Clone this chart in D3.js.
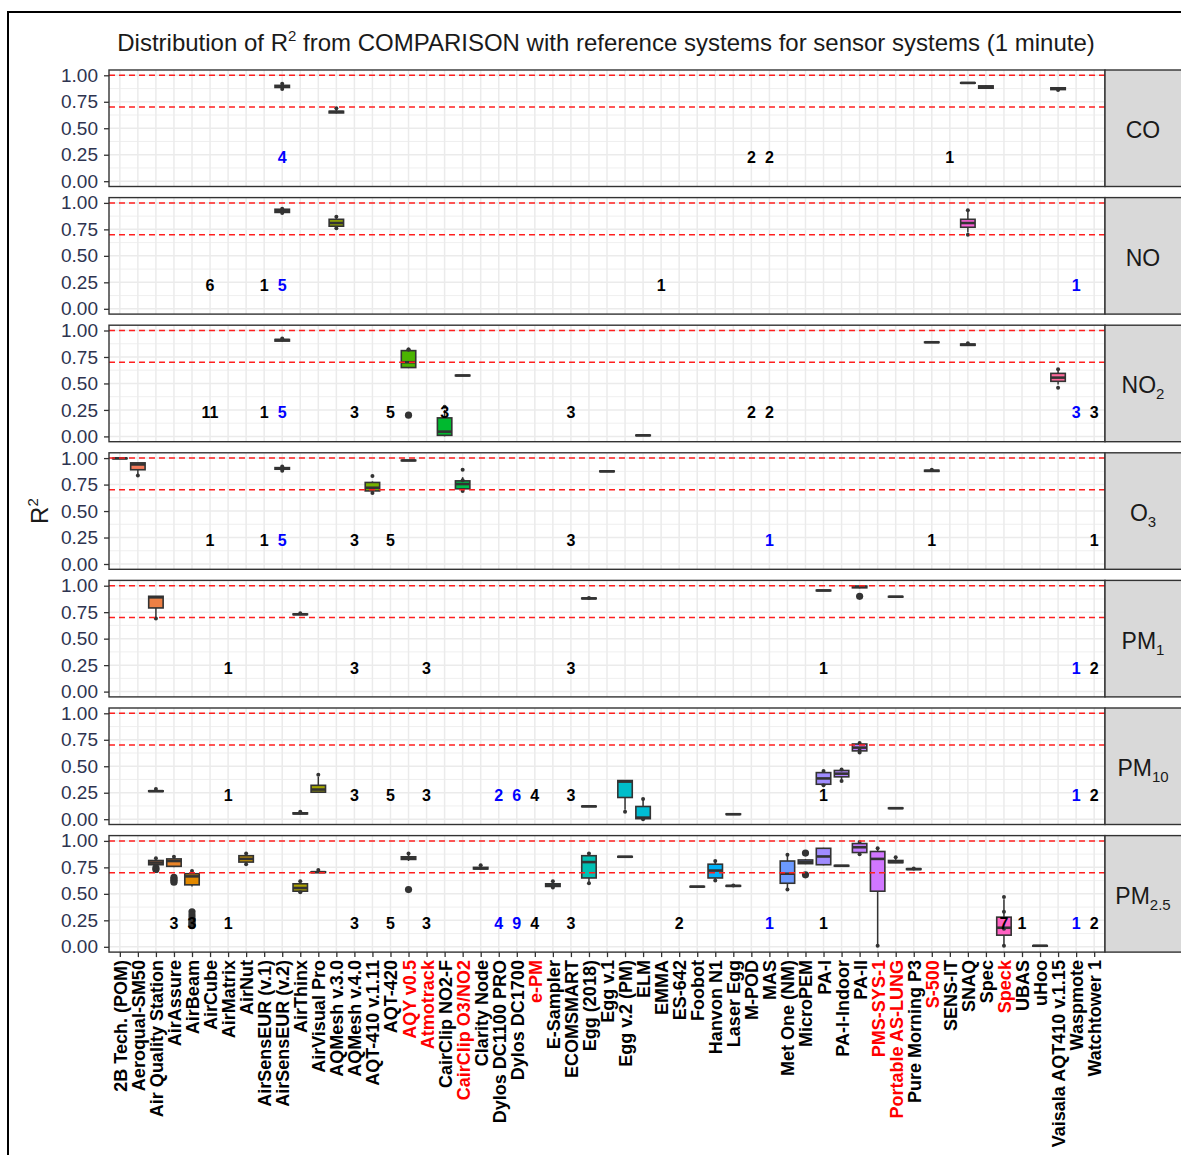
<!DOCTYPE html>
<html><head><meta charset="utf-8">
<script src="https://cdn.jsdelivr.net/npm/d3@7"></script>
<style>
body{margin:0;background:#fff;}
svg{display:block;font-family:"Liberation Sans",Arial,sans-serif;}
</style>
</head><body>
<svg id="c" width="1181" height="1155"></svg>
<script>
// ---------------- DATA ----------------
const categories = ["2B Tech. (POM)","Aeroqual-SM50","Air Quality Station","AirAssure","AirBeam","AirCube","AirMatrix","AirNut","AirSensEUR (v.1)","AirSensEUR (v.2)","AirThinx","AirVisual Pro","AQMesh v.3.0","AQMesh v.4.0","AQT-410 v.1.11","AQT-420","AQY v0.5","Atmotrack","CairClip NO2-F","CairClip O3/NO2","Clarity Node","Dylos DC1100 PRO","Dylos DC1700","e-PM","E-Sampler","ECOMSMART","Egg (2018)","Egg v.1","Egg v.2 (PM)","ELM","EMMA","ES-642","Foobot","Hanvon N1","Laser Egg","M-POD","MAS","Met One (NM)","MicroPEM","PA-I","PA-I-Indoor","PA-II","PMS-SYS-1","Portable AS-LUNG","Pure Morning P3","S-500","SENS-IT","SNAQ","Spec","Speck","UBAS","uHoo","Vaisala AQT410 v.1.15","Waspmote","Watchtower 1"];
const redCategories = ["AQY v0.5","Atmotrack","CairClip O3/NO2","e-PM","PMS-SYS-1","Portable AS-LUNG","S-500","Speck"];
const stripMain = ["CO","NO","NO","O","PM","PM","PM"];
const stripSub  = ["","","2","3","1","10","2.5"];
const yTicks = [0, 0.25, 0.5, 0.75, 1];
const yMinor = [0.125, 0.375, 0.625, 0.875];
const refLines = [0.7, 1.0];

// box rows: [category, lower whisker, q1, median, q3, upper whisker, small points, large points]
const boxesCO = [
  ["AirSensEUR (v.2)", 0.87, 0.885, 0.895, 0.905, 0.92, [0.87, 0.92], []],
  ["AQMesh v.3.0", 0.64, 0.645, 0.655, 0.66, 0.69, [0.69], []],
  ["SNAQ", 0.925, 0.926, 0.928, 0.93, 0.931, [], []],
  ["Spec", 0.87, 0.878, 0.89, 0.9, 0.905, [], []],
  ["Vaisala AQT410 v.1.15", 0.86, 0.865, 0.875, 0.882, 0.885, [0.86], []]
];
const boxesNO = [
  ["AirSensEUR (v.2)", 0.905, 0.91, 0.925, 0.94, 0.945, [0.905, 0.945], []],
  ["AQMesh v.3.0", 0.76, 0.78, 0.81, 0.845, 0.87, [0.87, 0.76], []],
  ["SNAQ", 0.72, 0.77, 0.81, 0.845, 0.92, [0.93, 0.70], []]
];
const boxesNO2 = [
  ["AirSensEUR (v.2)", 0.895, 0.9, 0.91, 0.915, 0.925, [0.925], []],
  ["AQY v0.5", 0.645, 0.65, 0.70, 0.81, 0.82, [0.82, 0.82], [0.2]],
  ["CairClip NO2-F", 0.0, 0.01, 0.045, 0.175, 0.25, [0.28], []],
  ["CairClip O3/NO2", 0.57, 0.572, 0.575, 0.578, 0.58, [], []],
  ["ELM", 0.005, 0.008, 0.01, 0.012, 0.015, [], []],
  ["S-500", 0.885, 0.887, 0.889, 0.891, 0.893, [], []],
  ["SNAQ", 0.855, 0.86, 0.865, 0.872, 0.88, [0.88], []],
  ["Vaisala AQT410 v.1.15", 0.49, 0.52, 0.555, 0.595, 0.635, [0.635, 0.46], []]
];
const boxesO3 = [
  ["2B Tech. (POM)", 0.995, 0.997, 0.998, 0.999, 1.0, [], []],
  ["Aeroqual-SM50", 0.85, 0.89, 0.94, 0.955, 0.955, [0.835], []],
  ["AirSensEUR (v.2)", 0.88, 0.895, 0.9, 0.91, 0.92, [0.92, 0.88], []],
  ["AQT-410 v.1.11", 0.67, 0.69, 0.72, 0.77, 0.78, [0.83, 0.67], []],
  ["AQY v0.5", 0.975, 0.976, 0.978, 0.98, 0.981, [], []],
  ["CairClip O3/NO2", 0.69, 0.71, 0.755, 0.785, 0.82, [0.89, 0.79, 0.69], []],
  ["Egg v.1", 0.87, 0.872, 0.875, 0.878, 0.88, [], []],
  ["S-500", 0.87, 0.875, 0.88, 0.885, 0.89, [0.89], []]
];
const boxesPM1 = [
  ["Air Quality Station", 0.69, 0.79, 0.89, 0.9, 0.9, [0.69], []],
  ["AirThinx", 0.725, 0.727, 0.73, 0.733, 0.74, [0.74], []],
  ["Egg (2018)", 0.875, 0.877, 0.88, 0.883, 0.885, [0.885], []],
  ["PA-I", 0.95, 0.952, 0.955, 0.958, 0.96, [], []],
  ["PA-II", 0.975, 0.98, 0.99, 0.995, 1.0, [], [0.9]],
  ["Portable AS-LUNG", 0.893, 0.894, 0.896, 0.898, 0.9, [], []]
];
const boxesPM10 = [
  ["Air Quality Station", 0.26, 0.262, 0.265, 0.268, 0.285, [0.285], []],
  ["AirThinx", 0.045, 0.05, 0.055, 0.06, 0.07, [0.07], []],
  ["AirVisual Pro", 0.25, 0.255, 0.28, 0.32, 0.40, [0.42], []],
  ["Egg (2018)", 0.12, 0.121, 0.122, 0.123, 0.125, [], []],
  ["Egg v.2 (PM)", 0.09, 0.205, 0.355, 0.365, 0.37, [0.07], []],
  ["ELM", 0.0, 0.005, 0.015, 0.12, 0.185, [0.19, 0.0], []],
  ["Laser Egg", 0.04, 0.045, 0.047, 0.05, 0.055, [], []],
  ["PA-I", 0.32, 0.33, 0.385, 0.44, 0.455, [0.455, 0.32], []],
  ["PA-I-Indoor", 0.36, 0.40, 0.43, 0.46, 0.47, [0.47, 0.36], []],
  ["PA-II", 0.63, 0.645, 0.676, 0.71, 0.72, [0.72, 0.63, 0.65], []],
  ["Portable AS-LUNG", 0.1, 0.102, 0.104, 0.106, 0.108, [], []]
];
const boxesPM25 = [
  ["Air Quality Station", 0.76, 0.775, 0.795, 0.815, 0.835, [0.835], [0.745, 0.73]],
  ["AirAssure", 0.75, 0.76, 0.81, 0.83, 0.85, [0.85], [0.655, 0.64, 0.625, 0.61]],
  ["AirBeam", 0.57, 0.585, 0.665, 0.69, 0.715, [0.715], [0.33, 0.3, 0.27, 0.25, 0.23, 0.215, 0.2]],
  ["AirNut", 0.78, 0.8, 0.83, 0.86, 0.88, [0.88, 0.78], []],
  ["AirThinx", 0.515, 0.525, 0.555, 0.595, 0.62, [0.62, 0.515], []],
  ["AirVisual Pro", 0.70, 0.702, 0.705, 0.708, 0.725, [0.725], []],
  ["AQY v0.5", 0.81, 0.825, 0.835, 0.85, 0.88, [0.88], [0.54]],
  ["Clarity Node", 0.73, 0.735, 0.74, 0.75, 0.77, [0.77], []],
  ["E-Sampler", 0.56, 0.57, 0.58, 0.595, 0.62, [0.62, 0.56], []],
  ["Egg (2018)", 0.6, 0.65, 0.8, 0.86, 0.88, [0.88, 0.6], []],
  ["Egg v.2 (PM)", 0.845, 0.847, 0.85, 0.853, 0.855, [], []],
  ["Foobot", 0.565, 0.566, 0.568, 0.57, 0.572, [], []],
  ["Hanvon N1", 0.625, 0.65, 0.72, 0.78, 0.81, [0.81, 0.625], []],
  ["Laser Egg", 0.57, 0.572, 0.575, 0.578, 0.58, [0.58], []],
  ["Met One (NM)", 0.54, 0.60, 0.69, 0.81, 0.87, [0.87, 0.54], []],
  ["MicroPEM", 0.78, 0.785, 0.8, 0.82, 0.83, [], [0.885, 0.68]],
  ["PA-I", 0.77, 0.775, 0.853, 0.93, 0.935, [], []],
  ["PA-I-Indoor", 0.76, 0.762, 0.765, 0.768, 0.77, [], []],
  ["PA-II", 0.875, 0.89, 0.94, 0.975, 0.99, [0.875, 0.99], []],
  ["PMS-SYS-1", 0.02, 0.525, 0.83, 0.9, 0.93, [0.93, 0.01], []],
  ["Portable AS-LUNG", 0.79, 0.795, 0.8, 0.815, 0.83, [0.845], []],
  ["Pure Morning P3", 0.728, 0.73, 0.734, 0.737, 0.74, [0.74], []],
  ["Speck", 0.01, 0.11, 0.18, 0.28, 0.45, [0.47, 0.33, 0.17, 0.01], []],
  ["uHoo", 0.008, 0.009, 0.01, 0.011, 0.012, [], []]
];

// count labels: [category, text, isBlue]
const countsCO = [["AirSensEUR (v.2)","4",1],["M-POD","2",0],["MAS","2",0],["SENS-IT","1",0]];
const countsNO = [["AirCube","6",0],["AirSensEUR (v.1)","1",0],["AirSensEUR (v.2)","5",1],["EMMA","1",0],["Waspmote","1",1]];
const countsNO2 = [["AirCube","11",0],["AirSensEUR (v.1)","1",0],["AirSensEUR (v.2)","5",1],["AQMesh v.4.0","3",0],["AQT-420","5",0],["CairClip NO2-F","3",0],["ECOMSMART","3",0],["M-POD","2",0],["MAS","2",0],["Waspmote","3",1],["Watchtower 1","3",0]];
const countsO3 = [["AirCube","1",0],["AirSensEUR (v.1)","1",0],["AirSensEUR (v.2)","5",1],["AQMesh v.4.0","3",0],["AQT-420","5",0],["ECOMSMART","3",0],["MAS","1",1],["S-500","1",0],["Watchtower 1","1",0]];
const countsPM1 = [["AirMatrix","1",0],["AQMesh v.4.0","3",0],["Atmotrack","3",0],["ECOMSMART","3",0],["PA-I","1",0],["Waspmote","1",1],["Watchtower 1","2",0]];
const countsPM10 = [["AirMatrix","1",0],["AQMesh v.4.0","3",0],["AQT-420","5",0],["Atmotrack","3",0],["Dylos DC1100 PRO","2",1],["Dylos DC1700","6",1],["e-PM","4",0],["ECOMSMART","3",0],["PA-I","1",0],["Waspmote","1",1],["Watchtower 1","2",0]];
const countsPM25 = [["AirAssure","3",0],["AirBeam","3",0],["AirMatrix","1",0],["AQMesh v.4.0","3",0],["AQT-420","5",0],["Atmotrack","3",0],["Dylos DC1100 PRO","4",1],["Dylos DC1700","9",1],["e-PM","4",0],["ECOMSMART","3",0],["ES-642","2",0],["MAS","1",1],["PA-I","1",0],["Speck","7",0],["UBAS","1",0],["Waspmote","1",1],["Watchtower 1","2",0]];

const panelBoxes = [boxesCO, boxesNO, boxesNO2, boxesO3, boxesPM1, boxesPM10, boxesPM25];
const panelCounts = [countsCO, countsNO, countsNO2, countsO3, countsPM1, countsPM10, countsPM25];

// ---------------- COLOURS (ggplot hue palette, polarLUV) ----------------
function hclLuv(h, c, l) {
  const Xn = 95.047, Yn = 100, Zn = 108.883;
  const den = Xn + 15 * Yn + 3 * Zn;
  const un = 4 * Xn / den, vn = 9 * Yn / den;
  const hr = h * Math.PI / 180;
  const U = c * Math.cos(hr), V = c * Math.sin(hr);
  const Y = Yn * (l > 8 ? Math.pow((l + 16) / 116, 3) : l / 903.3);
  const u = U / (13 * l) + un, v = V / (13 * l) + vn;
  const X = 9 * Y * u / (4 * v);
  const Z = Y * (12 - 3 * u - 20 * v) / (4 * v);
  const x = X / 100, y = Y / 100, z = Z / 100;
  let r = 3.240479 * x - 1.537150 * y - 0.498535 * z;
  let g = -0.969256 * x + 1.875992 * y + 0.041556 * z;
  let b = 0.055648 * x - 0.204043 * y + 1.057311 * z;
  const gam = t => t <= 0.0031308 ? 12.92 * t : 1.055 * Math.pow(t, 1 / 2.4) - 0.055;
  const cl = t => Math.round(255 * Math.max(0, Math.min(1, gam(t))));
  return d3.rgb(cl(r), cl(g), cl(b)).formatHex();
}
const nCat = categories.length;
const hueColor = cat => hclLuv(15 + 360 * categories.indexOf(cat) / nCat, 100, 65);

// ---------------- LAYOUT ----------------
const svg = d3.select("#c");
const plotL = 109, plotR = 1105, top0 = 70, panelH = 116.5, period = 127.6, stripW = 82;
const x = d3.scalePoint().domain(categories).range([plotL, plotR]).padding(0.6);
const step = x.step();
const bw = step * 0.8;
const ink = "#333333";

svg.append("rect").attr("width", 1181).attr("height", 1155).attr("fill", "#fff");
// outer frame
svg.append("rect").attr("x", 8).attr("y", 12).attr("width", 1250).attr("height", 1250)
  .attr("fill", "none").attr("stroke", "#000").attr("stroke-width", 2);

// title
const title = svg.append("text").attr("x", 606).attr("y", 51).attr("text-anchor", "middle")
  .attr("font-size", 24).attr("fill", "#1a1a1a");
title.append("tspan").text("Distribution of R");
title.append("tspan").attr("dy", -10).attr("font-size", 15).text("2");
title.append("tspan").attr("dy", 10).text(" from COMPARISON with reference systems for sensor systems (1 minute)");

// y-axis title
const yt = svg.append("text").attr("transform", `translate(48,${top0 + (6 * period + panelH) / 2}) rotate(-90)`)
  .attr("text-anchor", "middle").attr("font-size", 24).attr("fill", "#1a1a1a");
yt.append("tspan").text("R");
yt.append("tspan").attr("dy", -10).attr("font-size", 15).text("2");

stripMain.forEach((name, i) => {
  const top = top0 + i * period;
  const y = d3.scaleLinear().domain([-0.05, 1.05]).range([top + panelH, top]);
  const g = svg.append("g");

  // panel background + grid
  g.append("rect").attr("x", plotL).attr("y", top).attr("width", plotR - plotL).attr("height", panelH).attr("fill", "#fff");
  g.selectAll(".ymin").data(yMinor).join("line")
    .attr("x1", plotL).attr("x2", plotR).attr("y1", d => y(d)).attr("y2", d => y(d))
    .attr("stroke", "#ebebeb").attr("stroke-width", 0.8);
  g.selectAll(".ymaj").data(yTicks).join("line")
    .attr("x1", plotL).attr("x2", plotR).attr("y1", d => y(d)).attr("y2", d => y(d))
    .attr("stroke", "#ebebeb").attr("stroke-width", 1.5);
  g.selectAll(".xmaj").data(categories).join("line")
    .attr("x1", d => x(d)).attr("x2", d => x(d)).attr("y1", top).attr("y2", top + panelH)
    .attr("stroke", "#ebebeb").attr("stroke-width", 1.5);

  // boxes
  panelBoxes[i].forEach(b => {
    const [cat, lo, q1, med, q3, hi, pts, big] = b;
    const cx = x(cat);
    const bg = g.append("g");
    bg.append("line").attr("x1", cx).attr("x2", cx).attr("y1", y(hi)).attr("y2", y(q3))
      .attr("stroke", ink).attr("stroke-width", 1.5);
    bg.append("line").attr("x1", cx).attr("x2", cx).attr("y1", y(q1)).attr("y2", y(lo))
      .attr("stroke", ink).attr("stroke-width", 1.5);
    bg.append("rect").attr("x", cx - bw / 2).attr("y", y(q3)).attr("width", bw)
      .attr("height", Math.max(y(q1) - y(q3), 0.5))
      .attr("fill", hueColor(cat)).attr("stroke", ink).attr("stroke-width", 1.6);
    bg.append("line").attr("x1", cx - bw / 2).attr("x2", cx + bw / 2).attr("y1", y(med)).attr("y2", y(med))
      .attr("stroke", ink).attr("stroke-width", 2.6);
    bg.selectAll(".p").data(pts).join("circle")
      .attr("cx", cx).attr("cy", d => y(d)).attr("r", 2).attr("fill", ink);
    bg.selectAll(".b").data(big).join("circle")
      .attr("cx", cx).attr("cy", d => y(d)).attr("r", 3.6).attr("fill", ink);
  });

  // reference lines
  g.selectAll(".ref").data(refLines).join("line")
    .attr("x1", plotL).attr("x2", plotR).attr("y1", d => y(d)).attr("y2", d => y(d))
    .attr("stroke", "#ff2020").attr("stroke-width", 1.5).attr("stroke-dasharray", "6,4");

  // count labels
  g.selectAll(".cnt").data(panelCounts[i]).join("text")
    .attr("x", d => x(d[0])).attr("y", y(0.225)).attr("dy", "0.36em")
    .attr("text-anchor", "middle").attr("font-size", 16).attr("font-weight", "bold")
    .attr("fill", d => d[2] ? "#0000ff" : "#000").text(d => d[1]);

  // panel border
  g.append("rect").attr("x", plotL).attr("y", top).attr("width", plotR - plotL).attr("height", panelH)
    .attr("fill", "none").attr("stroke", ink).attr("stroke-width", 1.4);

  // y axis
  const ya = g.append("g").attr("transform", `translate(${plotL},0)`)
    .call(d3.axisLeft(y).tickValues(yTicks).tickFormat(d3.format(".2f")).tickSize(5).tickPadding(6));
  ya.select(".domain").remove();
  ya.selectAll("line").attr("stroke", ink).attr("stroke-width", 1.3);
  ya.selectAll("text").attr("font-size", 19).attr("fill", "#2e3450").attr("font-family", "Liberation Sans, Arial, sans-serif");

  // strip
  g.append("rect").attr("x", plotR).attr("y", top).attr("width", stripW).attr("height", panelH)
    .attr("fill", "#d9d9d9").attr("stroke", ink).attr("stroke-width", 1.4);
  const st = g.append("text").attr("x", plotR + 38).attr("y", top + panelH / 2 + 10)
    .attr("text-anchor", "middle").attr("font-size", 23).attr("fill", "#1a1a1a");
  st.append("tspan").text(name);
  if (stripSub[i]) st.append("tspan").attr("font-size", 15).attr("dy", 6).text(stripSub[i]);

  // x axis on bottom panel
  if (i === stripMain.length - 1) {
    const xa = g.append("g").attr("transform", `translate(0,${top + panelH})`)
      .call(d3.axisBottom(x).tickSize(5).tickPadding(3));
    xa.select(".domain").remove();
    xa.selectAll("line").attr("stroke", ink).attr("stroke-width", 1.3);
    xa.selectAll("text")
      .attr("transform", "rotate(-90)").attr("x", -8).attr("y", 0).attr("dy", "0.36em")
      .attr("text-anchor", "end").attr("font-size", 18).attr("font-weight", "bold")
      .attr("font-family", "Liberation Sans, Arial, sans-serif")
      .attr("fill", d => redCategories.includes(d) ? "#ff0000" : "#000");
  }
});
</script>
</body></html>
